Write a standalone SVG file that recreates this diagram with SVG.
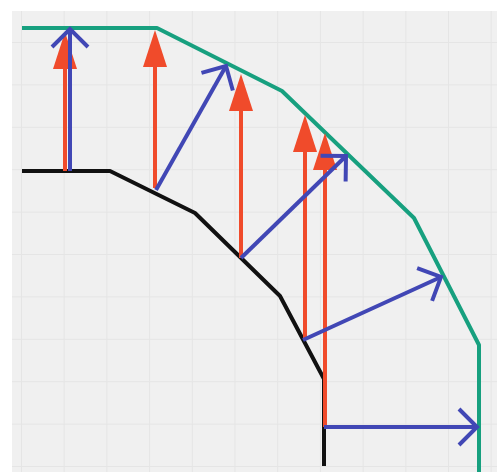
<svg xmlns="http://www.w3.org/2000/svg" width="497" height="472" viewBox="0 0 497 472">
  <style>
    .grid { stroke: #e5e5e5; stroke-width: 1; fill: none; }
    .green { stroke: #17a07f; stroke-width: 4; fill: none; stroke-linejoin: round; }
    .black { stroke: #111111; stroke-width: 4; fill: none; stroke-linejoin: round; }
    .red { stroke: #f04b2b; stroke-width: 4; fill: none; marker-end: url(#redHead); }
    .blue { stroke: #4147b5; stroke-width: 4; fill: none; marker-end: url(#blueHead); }
  </style>
  <defs>
    <marker id="redHead" markerUnits="userSpaceOnUse" viewBox="-2 -14 42 28" refX="0" refY="0" markerWidth="42" markerHeight="28" orient="auto" overflow="visible">
      <path d="M0,-12 L37,0 L0,12 z" fill="#f04b2b"/>
    </marker>
    <marker id="blueHead" markerUnits="userSpaceOnUse" viewBox="-22 -22 26 44" refX="0" refY="0" markerWidth="26" markerHeight="44" orient="auto" overflow="visible">
      <path d="M-18,-18 L0,0 L-18,18" fill="none" stroke="#4147b5" stroke-width="4" stroke-linejoin="miter"/>
    </marker>
  </defs>
  <rect x="0" y="0" width="497" height="472" fill="#ffffff"/>
  <rect x="12" y="11" width="485" height="461" fill="#f0f0f0"/>
  <path class="grid" d="M21.5,11V472 M64.2,11V472 M106.9,11V472 M149.6,11V472 M192.3,11V472 M235,11V472 M277.7,11V472 M320.4,11V472 M363.1,11V472 M405.8,11V472 M448.5,11V472 M491.2,11V472 M12,42.5H497 M12,84.9H497 M12,127.3H497 M12,169.7H497 M12,212.1H497 M12,254.5H497 M12,296.9H497 M12,339.3H497 M12,381.7H497 M12,424.1H497 M12,466.5H497"/>
  <g id="outer-profile">
    <polyline class="green" points="22,28 157,28 282,91 414,218 479,345 479,472"/>
  </g>
  <g id="inner-profile">
    <polyline class="black" points="22,171 110,171 195,213 280,296 324,379 324,466"/>
  </g>
  <g id="connectors">
    <g id="red-arrows">
      <line class="red" x1="65" y1="171" x2="65" y2="69"/>
      <line class="red" x1="155" y1="188" x2="155" y2="67"/>
      <line class="red" x1="241" y1="258" x2="241" y2="111"/>
      <line class="red" x1="305" y1="340" x2="305" y2="152"/>
      <line class="red" x1="325" y1="427" x2="325" y2="170"/>
    </g>
    <g id="blue-arrows">
      <line class="blue" x1="70" y1="171" x2="70" y2="29"/>
      <line class="blue" x1="156" y1="190" x2="226" y2="66"/>
      <line class="blue" x1="241" y1="258" x2="346" y2="156"/>
      <line class="blue" x1="303" y1="340" x2="441" y2="277"/>
      <line class="blue" x1="324" y1="427" x2="477" y2="427"/>
    </g>
  </g>
</svg>
